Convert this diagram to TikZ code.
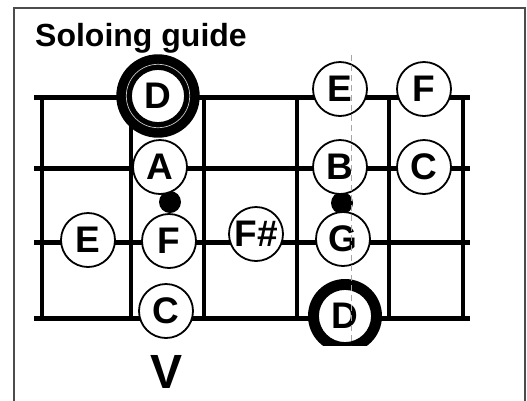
\documentclass[tikz,border=0pt]{standalone}
\usepackage{fontspec}
\setmainfont{Liberation Sans}
\begin{document}
\begin{tikzpicture}[x=1pt,y=-1pt,
  note/.style={circle,draw,fill=white,line width=1.8pt,minimum size=54pt,inner sep=0pt,font=\bfseries\fontsize{37}{37}\selectfont},
  strline/.style={line width=5pt},
  fretline/.style={line width=4.5pt},
  blackdot/.style={fill=black},
  guide/.style={gray!70,line width=1pt,dash pattern=on 6pt off 4pt}]
\useasboundingbox (0,0) rectangle (527,400);
\draw[gray!60!black,line width=1.2pt] (14,401) -- (14,8) -- (525,8) -- (525,401);
\node[anchor=base west,inner sep=0pt,font=\bfseries\fontsize{32}{32}\selectfont] (title) at (35,46) {Soloing guide};
\foreach \y in {97,168,242,318} \draw[strline] (34,\y) -- (470,\y);
\foreach \x in {42,131,204,297,389,463} \draw[fretline] (\x,97) -- (\x,318);
\fill[blackdot] (170,202) circle (11pt);
\fill[blackdot] (342,203) circle (11pt);
% top D ring
\draw[line width=15pt] (158,96) circle (34.2pt);
\draw[gray!45,line width=0.7pt] (158,96) circle (31.7pt);
\node[note] (D1) at (158,96) {D};
\node[note] (A) at (160,167) {A};
\node[note] (F1) at (169,241) {F};
\node[note] (C1) at (166,311) {C};
\node[note] (E1) at (88,240) {E};
\node[note] (Fs) at (256,234) {F\#};
\node[note] (E2) at (340,89) {E};
\node[note] (F2) at (424,89) {F};
\node[note] (B) at (340,167) {B};
\node[note] (C2) at (424,167) {C};
\node[note] (G) at (343,239) {G};
\begin{scope}
\clip (290,260) rectangle (410,345);
\draw[line width=10pt] (345,316) circle (32pt);
\node[note] (D2) at (345,316) {D};
\end{scope}
\draw[guide] (351,55) -- (351,345);
\node[font=\bfseries\fontsize{48}{48}\selectfont,inner sep=0pt] (V) at (167,372) {V};
\end{tikzpicture}
\end{document}
